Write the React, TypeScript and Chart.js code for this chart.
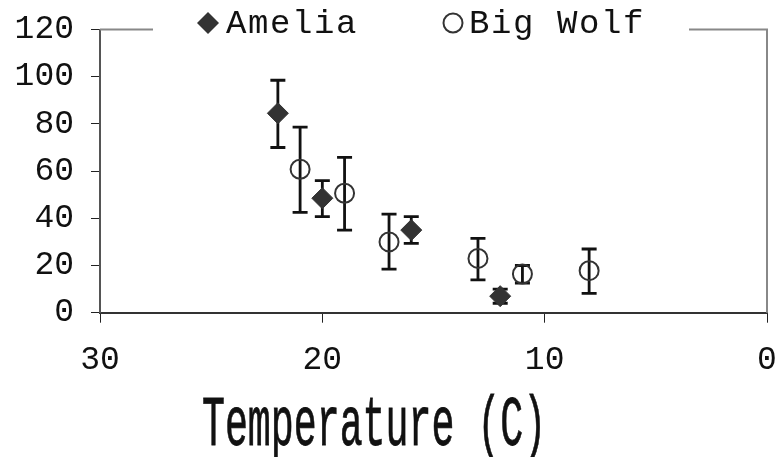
import React, { useEffect, useRef } from 'react';
import { Chart, registerables } from 'chart.js';

Chart.register(...registerables);

const seriesNames = ['Amelia', 'Big Wolf'];
const ameliaTemp = [22, 20, 16, 12];
const ameliaValue = [84.5, 48.5, 35, 7];
const ameliaUpper = [98.5, 56, 40.7, 10];
const ameliaLower = [70, 40.7, 29.4, 4];
const wolfTemp = [21, 19, 17, 13, 11, 8];
const wolfValue = [60.8, 50.6, 30, 23, 16.4, 17.8];
const wolfUpper = [78.6, 65.8, 41.8, 31.5, 20, 27];
const wolfLower = [42.5, 35, 18.5, 13.9, 12.5, 8.2];
const xMin = 0;
const xMax = 30;
const xStep = 10;
const yMin = 0;
const yMax = 120;
const yStep = 20;
const xTitle = 'Temperature (C)';

const MONO = "'Liberation Mono', 'DejaVu Sans Mono', monospace";

const errorBars = {
  id: 'errorBars',
  beforeDatasetsDraw(chart: any) {
    const ctx = chart.ctx;
    const xs = chart.scales.x;
    const ys = chart.scales.y;
    ctx.save();
    ctx.strokeStyle = '#111';
    ctx.lineWidth = 2.8;
    chart.data.datasets.forEach((ds: any) => {
      ds.data.forEach((p: any) => {
        const px = xs.getPixelForValue(p.x);
        const t = ys.getPixelForValue(p.hi);
        const b = ys.getPixelForValue(p.lo);
        ctx.beginPath();
        ctx.moveTo(px, t);
        ctx.lineTo(px, b);
        ctx.moveTo(px - 7.5, t);
        ctx.lineTo(px + 7.5, t);
        ctx.moveTo(px - 7.5, b);
        ctx.lineTo(px + 7.5, b);
        ctx.stroke();
      });
    });
    ctx.restore();
  },
};

const frame = {
  id: 'frame',
  beforeDatasetsDraw(chart: any) {
    const { ctx, chartArea: a } = chart;
    ctx.save();
    ctx.strokeStyle = '#888';
    ctx.lineWidth = 2;
    ctx.beginPath();
    ctx.moveTo(a.left, a.top);
    ctx.lineTo(a.right, a.top);
    ctx.lineTo(a.right, a.bottom);
    ctx.stroke();
    ctx.restore();
  },
};

const legendAndTitle = {
  id: 'legendAndTitle',
  afterDraw(chart: any) {
    const ctx = chart.ctx;
    ctx.save();
    ctx.fillStyle = '#fff';
    ctx.fillRect(153, 0, 536, 46);
    ctx.fillStyle = '#333';
    ctx.beginPath();
    ctx.moveTo(208, 12);
    ctx.lineTo(219, 23);
    ctx.lineTo(208, 34);
    ctx.lineTo(197, 23);
    ctx.closePath();
    ctx.fill();
    ctx.strokeStyle = '#333';
    ctx.lineWidth = 2;
    ctx.beginPath();
    ctx.arc(453, 23, 9.5, 0, Math.PI * 2);
    ctx.stroke();
    ctx.fillStyle = '#111';
    ctx.font = `34px ${MONO}`;
    (ctx as any).letterSpacing = '1.6px';
    ctx.textBaseline = 'alphabetic';
    ctx.textAlign = 'left';
    ctx.fillText(seriesNames[0], 226, 33);
    ctx.fillText(seriesNames[1], 469, 33);
    (ctx as any).letterSpacing = '0px';
    ctx.font = `71px ${MONO}`;
    const m = ctx.measureText(xTitle);
    const inkW = m.actualBoundingBoxLeft + m.actualBoundingBoxRight;
    const s = 337 / inkW;
    ctx.translate(203, 445);
    ctx.scale(s, 1);
    ctx.lineWidth = 0.8;
    ctx.strokeStyle = '#111';
    ctx.fillText(xTitle, m.actualBoundingBoxLeft, 0);
    ctx.strokeText(xTitle, m.actualBoundingBoxLeft, 0);
    ctx.restore();
  },
};

const noPad = (s: any) => {
  s.paddingTop = 0;
  s.paddingBottom = 0;
  s.paddingLeft = 0;
  s.paddingRight = 0;
};

export default function App() {
  const ref = useRef<HTMLCanvasElement>(null);
  useEffect(() => {
    if (!ref.current) return;
    const amelia = ameliaTemp.map((x, i) => ({ x, y: ameliaValue[i], hi: ameliaUpper[i], lo: ameliaLower[i] }));
    const wolf = wolfTemp.map((x, i) => ({ x, y: wolfValue[i], hi: wolfUpper[i], lo: wolfLower[i] }));
    const chart = new Chart(ref.current, {
      type: 'scatter',
      data: {
        datasets: [
          {
            label: seriesNames[0],
            data: amelia,
            pointStyle: 'rectRot',
            pointRadius: 10.5,
            backgroundColor: '#333',
            borderColor: '#333',
            borderWidth: 1,
          },
          {
            label: seriesNames[1],
            data: wolf,
            pointStyle: 'circle',
            pointRadius: 9.5,
            backgroundColor: 'rgba(0,0,0,0)',
            borderColor: '#333',
            borderWidth: 2,
          },
        ],
      },
      options: {
        animation: false,
        responsive: false,
        layout: { padding: { top: 29.5, right: 12, left: 0, bottom: 0 } },
        plugins: { legend: { display: false }, tooltip: { enabled: false } },
        scales: {
          x: {
            type: 'linear',
            reverse: true,
            min: xMin,
            max: xMax,
            afterFit: (s: any) => { s.height = 144.3; noPad(s); },
            ticks: { stepSize: xStep, padding: 18, color: '#111', font: { family: MONO, size: 33 } },
            grid: { drawOnChartArea: false, drawTicks: true, tickLength: 10, color: '#222', lineWidth: 1 },
            border: { display: true, color: '#333', width: 2 },
          },
          y: {
            type: 'linear',
            min: yMin,
            max: yMax,
            afterFit: (s: any) => { s.width = 100; noPad(s); },
            ticks: { stepSize: yStep, padding: 17, color: '#111', font: { family: MONO, size: 33 } },
            grid: { drawOnChartArea: false, drawTicks: true, tickLength: 9, color: '#222', lineWidth: 1 },
            border: { display: true, color: '#555', width: 2 },
          },
        },
      },
      plugins: [frame, errorBars, legendAndTitle],
    });
    return () => chart.destroy();
  }, []);
  return (
    <div style={{ position: 'absolute', left: 0, top: 0, width: 779, height: 457, background: '#fff' }}>
      <canvas ref={ref} width={779} height={457} />
    </div>
  );
}
